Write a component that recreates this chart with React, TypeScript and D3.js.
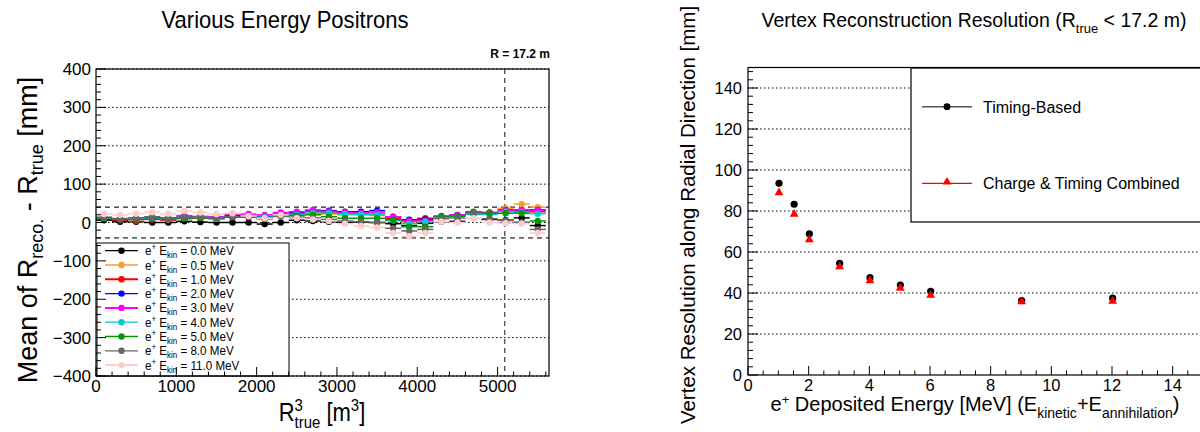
import React from 'react';
import * as d3 from 'd3';

// ---------------- Left panel data ----------------
const binCenters = [100, 300, 500, 700, 900, 1100, 1300, 1500, 1700, 1900, 2100, 2300, 2500, 2700, 2900, 3100, 3300, 3500, 3700, 3900, 4100, 4300, 4500, 4700, 4900, 5100, 5300, 5500];
const energyLabels = ['0.0', '0.5', '1.0', '2.0', '3.0', '4.0', '5.0', '8.0', '11.0'];
const seriesColors = ['#000000', '#ff9933', '#ff0000', '#0000ff', '#ff00ff', '#00cccc', '#009900', '#666666', '#ffcccc'];
const e00 = [6, 2, 2, 0, 0, 3, 1, 0, 0, 0, -4, 0, 6, 4, 2, 0, 1, 0, -3, -8, -2, 2, 3, 22, 8, 6, 12, -8];
const e05 = [10, 8, 10, 10, 8, 12, 12, 10, 15, 15, 12, 18, 20, 22, 22, 20, 20, 18, 12, 2, 8, 15, 18, 25, 24, 37, 48, 40];
const e10 = [8, 5, 3, 8, 6, 10, 12, 10, 14, 14, 12, 18, 22, 24, 25, 24, 22, 22, 10, 5, 11, 14, 18, 26, 26, 33, 32, 28];
const e20 = [10, 8, 10, 12, 10, 14, 15, 14, 18, 18, 16, 22, 26, 30, 31, 28, 28, 31, 15, 7, 8, 15, 20, 25, 25, 30, 30, 33];
const e30 = [12, 10, 12, 14, 12, 18, 16, 14, 22, 22, 20, 26, 28, 33, 29, 26, 25, 27, 15, 4, 5, 14, 20, 25, 26, 31, 33, 32];
const e40 = [12, 10, 10, 12, 8, 12, 14, 10, 15, 16, 14, 18, 20, 24, 24, 22, 21, 20, 5, -3, 2, 12, 16, 22, 21, 28, 27, 23];
const e50 = [12, 8, 8, 13, 9, 12, 12, 11, 14, 15, 10, 16, 18, 20, 15, 11, 11, 11, 7, -11, -11, 17, 17, 28, 24, 24, 24, 4];
const e80 = [14, 10, 12, 15, 12, 14, 14, 12, 16, 16, 10, 16, 14, 12, 8, 4, 2, 0, -15, -22, -18, 10, 12, 26, 10, 5, 1, -18];
const e110 = [22, 20, 23, 27, 23, 30, 26, 22, 24, 17, 11, 20, 11, 8, 4, -3, -9, -13, -27, -36, -27, 2, 0, 11, 0, -2, -3, -27];
const seriesValues = [e00, e05, e10, e20, e30, e40, e50, e80, e110];
const seriesErr = [3, 3, 3, 3, 3, 3, 4, 5, 6];
const binHalfWidth = 100;
const leftYTicks = [-400, -300, -200, -100, 0, 100, 200, 300, 400];
const leftXTicks = [0, 1000, 2000, 3000, 4000, 5000];
const bandLimits = [40, -40];
const fiducialR3 = 5088.4;

// ---------------- Right panel data ----------------
const depEnergy = [1.022, 1.522, 2.022, 3.022, 4.022, 5.022, 6.022, 9.022, 12.022];
const timingBased = [93.5, 83.3, 68.9, 54.5, 47.5, 43.9, 40.8, 36.3, 37.5];
const chargeTiming = [88.5, 78.0, 65.5, 52.3, 45.5, 41.8, 38.5, 35.3, 35.5];
const rightYTicks = [0, 20, 40, 60, 80, 100, 120, 140];
const rightXTicks = [0, 2, 4, 6, 8, 10, 12, 14];

const FONT = 'Liberation Sans, Arial, Helvetica, sans-serif';

function range(a: number, b: number, step: number) {
  const out: number[] = [];
  for (let v = a; v <= b + 1e-9; v += step) out.push(+v.toFixed(6));
  return out;
}

const fmt = d3.format('');

export default function App() {
  // left scales
  const xL = d3.scaleLinear().domain([0, 5640]).range([96, 549]);
  const yL = d3.scaleLinear().domain([-400, 400]).range([376, 69]);
  // right scales
  const xR = d3.scaleLinear().domain([0, 15]).range([748, 1203]);
  const yR = d3.scaleLinear().domain([0, 150]).range([375, 67.5]);

  const leftYMinor = range(-400, 400, 20);
  const leftXMinor = range(0, 5600, 200);
  const rightYMinor = range(0, 150, 4);
  const rightXMinor = range(0, 15, 0.5);

  const tri = d3.symbol().type(d3.symbolTriangle).size(34)();

  const legendX0 = 97, legendY0 = 243, legendX1 = 289, legendY1 = 376;
  const legendRowH = 14.3;

  return (
    <svg width={1200} height={432} style={{ position: 'absolute', left: 0, top: 0, background: '#fff' }} fontFamily={FONT}>
      <rect x={0} y={0} width={1200} height={432} fill="#fff" />
      {/* ================= LEFT PANEL ================= */}
      <text transform="translate(285,28) scale(0.9,1)" fontSize={24.5} textAnchor="middle">Various Energy Positrons</text>
      <text x={550} y={58} fontSize={12} fontWeight="bold" textAnchor="end">R = 17.2 m</text>

      {/* horizontal dotted grid */}
      {leftYTicks.map((t) => (
        <line key={'lg' + t} x1={xL.range()[0]} x2={xL.range()[1]} y1={yL(t)} y2={yL(t)} stroke="#000" strokeWidth={1} strokeDasharray="1.5,2.5" />
      ))}
      {/* dashed bands */}
      <line x1={xL.range()[0]} x2={xL.range()[1]} y1={yL(bandLimits[0])} y2={yL(bandLimits[0])} stroke="#222" strokeWidth={1.2} strokeDasharray="5,4" />
      <line x1={xL.range()[0]} x2={xL.range()[1]} y1={yL(bandLimits[1])} y2={yL(bandLimits[1])} stroke="#666" strokeWidth={1.6} strokeDasharray="5,4" />
      <line x1={xL(fiducialR3)} x2={xL(fiducialR3)} y1={yL(400)} y2={yL(-400)} stroke="#555" strokeWidth={1.4} strokeDasharray="5,4" />

      {/* series */}
      {seriesValues.map((vals, si) => (
        <g key={'s' + si}>
          {vals.map((v, i) => (
            <g key={i}>
              <line x1={xL(binCenters[i] - binHalfWidth)} x2={xL(binCenters[i] + binHalfWidth)} y1={yL(v)} y2={yL(v)} stroke={seriesColors[si]} strokeWidth={1.5} />
              <line x1={xL(binCenters[i])} x2={xL(binCenters[i])} y1={yL(v - seriesErr[si])} y2={yL(v + seriesErr[si])} stroke={seriesColors[si]} strokeWidth={1.5} />
              <circle cx={xL(binCenters[i])} cy={yL(v)} r={3.2} fill={seriesColors[si]} />
            </g>
          ))}
        </g>
      ))}

      {/* legend */}
      <rect x={legendX0} y={legendY0} width={legendX1 - legendX0} height={legendY1 - legendY0} fill="#fff" stroke="#000" strokeWidth={1} />
      {energyLabels.map((e, i) => {
        const cy = legendY0 + 7.7 + i * legendRowH;
        return (
          <g key={'lg' + i}>
            <line x1={105} x2={138} y1={cy} y2={cy} stroke={seriesColors[i]} strokeWidth={i === 2 || i === 4 || i === 8 ? 2 : 1.3} />
            <circle cx={121.5} cy={cy} r={3.2} fill={seriesColors[i]} />
            <text transform={`translate(145,${cy + 4.5}) scale(0.93,1)`} fontSize={12.5}>
              e<tspan dy={-5} fontSize={8.5}>+</tspan>
              <tspan dy={5}> E</tspan>
              <tspan dy={3} fontSize={8.5}>kin</tspan>
              <tspan dy={-3}> = {e} MeV</tspan>
            </text>
          </g>
        );
      })}

      {/* frame */}
      <rect x={96} y={69} width={549 - 96} height={376 - 69} fill="none" stroke="#000" strokeWidth={1.2} />
      {/* y ticks */}
      {leftYMinor.map((t) => {
        const major = t % 100 === 0;
        return <line key={'ly' + t} x1={96} x2={96 + (major ? 10 : 5)} y1={yL(t)} y2={yL(t)} stroke="#000" strokeWidth={1} />;
      })}
      {leftXMinor.map((t) => {
        const major = t % 1000 === 0;
        return <line key={'lx' + t} x1={xL(t)} x2={xL(t)} y1={376} y2={376 - (major ? 9 : 4.5)} stroke="#000" strokeWidth={1} />;
      })}
      {leftYTicks.map((t) => (
        <text key={'lyl' + t} x={91} y={yL(t) + 6} fontSize={17} textAnchor="end">{fmt(t)}</text>
      ))}
      {leftXTicks.map((t) => (
        <text key={'lxl' + t} x={xL(t)} y={392} fontSize={17} textAnchor="middle">{fmt(t)}</text>
      ))}
      {/* axis titles */}
      <text transform="translate(322,421) scale(0.88,1)" fontSize={25} textAnchor="middle">
        R<tspan dy={-10} fontSize={17}>3</tspan>
        <tspan dx={-9.5} dy={17} fontSize={17}>true</tspan>
        <tspan dy={-7}> [m</tspan>
        <tspan dy={-10} fontSize={17}>3</tspan>
        <tspan dy={10}>]</tspan>
      </text>
      <text transform={`translate(37,230) rotate(-90)`} fontSize={27} textAnchor="middle">
        Mean of R<tspan dy={6} fontSize={18}>reco.</tspan>
        <tspan dy={-6}> - R</tspan>
        <tspan dy={6} fontSize={18}>true</tspan>
        <tspan dy={-6}> [mm]</tspan>
      </text>

      {/* ================= RIGHT PANEL ================= */}
      <text x={974} y={27} fontSize={19.5} textAnchor="middle">
        Vertex Reconstruction Resolution (R<tspan dy={6} fontSize={13}>true</tspan>
        <tspan dy={-6}> &lt; 17.2 m)</tspan>
      </text>

      {rightYTicks.filter((t) => t > 0).map((t) => (
        <line key={'rg' + t} x1={748} x2={1203} y1={yR(t)} y2={yR(t)} stroke="#000" strokeWidth={1} strokeDasharray="1.5,2.5" />
      ))}

      {/* right legend */}
      <rect x={911} y={68} width={300} height={222 - 68} fill="#fff" stroke="#000" strokeWidth={1.2} />
      <line x1={922} x2={972} y1={106.7} y2={106.7} stroke="#555" strokeWidth={1.5} />
      <circle cx={947} cy={106.7} r={3.4} fill="#000" />
      <text x={983} y={112.5} fontSize={16}>Timing-Based</text>
      <line x1={922} x2={972} y1={183.3} y2={183.3} stroke="#ff0000" strokeWidth={1.3} />
      <path d={tri!} transform={`translate(947,182)`} fill="#ff0000" />
      <text x={983} y={189} fontSize={16}>Charge &amp; Timing Combined</text>

      {/* points */}
      {depEnergy.map((e, i) => (
        <circle key={'tb' + i} cx={xR(e)} cy={yR(timingBased[i])} r={3.6} fill="#000" />
      ))}
      {depEnergy.map((e, i) => (
        <path key={'ct' + i} d={tri!} transform={`translate(${xR(e)},${yR(chargeTiming[i]) - 1})`} fill="#ff0000" />
      ))}

      {/* right frame */}
      <rect x={748} y={67.5} width={1203 - 748} height={375 - 67.5} fill="none" stroke="#000" strokeWidth={1.2} />
      {rightYMinor.map((t) => {
        const major = t % 20 === 0;
        return <line key={'ry' + t} x1={748} x2={748 + (major ? 10 : 5)} y1={yR(t)} y2={yR(t)} stroke="#000" strokeWidth={1} />;
      })}
      {rightXMinor.map((t) => {
        const major = Math.abs(t % 2) < 1e-6;
        return <line key={'rx' + t} x1={xR(t)} x2={xR(t)} y1={375} y2={375 - (major ? 9 : 4.5)} stroke="#000" strokeWidth={1} />;
      })}
      {rightYTicks.map((t) => (
        <text key={'ryl' + t} x={742} y={yR(t) + 6} fontSize={16.5} textAnchor="end">{fmt(t)}</text>
      ))}
      {rightXTicks.map((t) => (
        <text key={'rxl' + t} x={xR(t)} y={391} fontSize={16.5} textAnchor="middle">{fmt(t)}</text>
      ))}
      <text x={975} y={411} fontSize={20} textAnchor="middle">
        e<tspan dy={-7} fontSize={13}>+</tspan>
        <tspan dy={7}> Deposited Energy [MeV] (E</tspan>
        <tspan dy={7} fontSize={14}>kinetic</tspan>
        <tspan dy={-7}>+E</tspan>
        <tspan dy={7} fontSize={14}>annihilation</tspan>
        <tspan dy={-7}>)</tspan>
      </text>
      <text transform={`translate(695,215) rotate(-90)`} fontSize={20.5} textAnchor="middle">
        Vertex Resolution along Radial Direction [mm]
      </text>
    </svg>
  );
}
